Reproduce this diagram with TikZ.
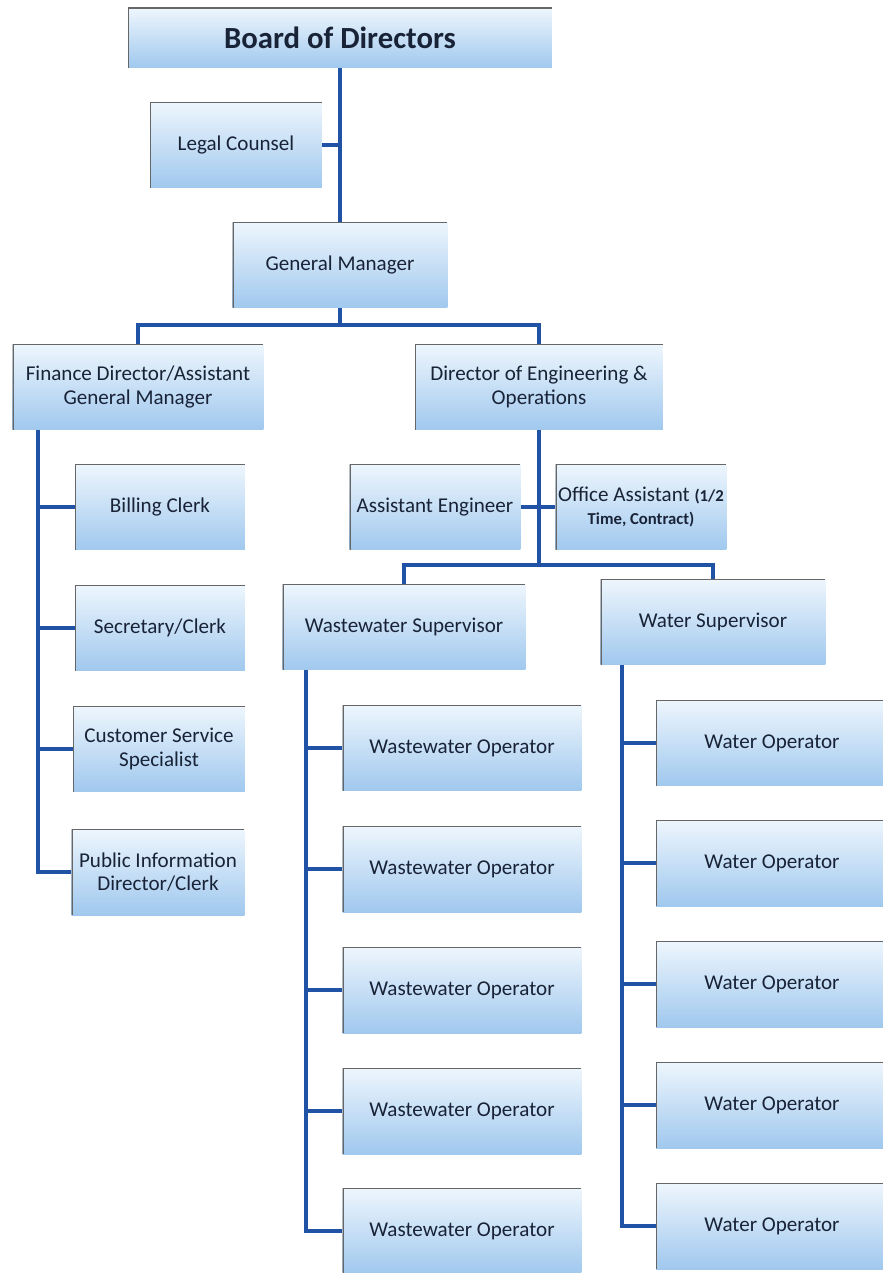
\documentclass[tikz,border=0pt]{standalone}
\usepackage{fontspec}
\setmainfont{Carlito}
\usepackage{xcolor}
\definecolor{linkblue}{RGB}{32,82,165}
\definecolor{boxtop}{RGB}{238,246,253}
\definecolor{boxbot}{RGB}{160,200,238}
\definecolor{boxtext}{RGB}{25,35,55}
\tikzset{
box/.style={top color=boxtop, bottom color=boxbot, inner sep=1pt, minimum height=1.72cm, align=center, text=boxtext, font=\fontsize{12}{13.5}\selectfont,
  path picture={\draw[black!60, line width=1.4pt] (path picture bounding box.south west) -- (path picture bounding box.north west) -- (path picture bounding box.north east);}},
link/.style={draw=linkblue, line width=2.2pt},
}
\newcommand{\smalltxt}{\bfseries\fontsize{9.5}{11}\selectfont}
\begin{document}
\begin{tikzpicture}[x=0.02cm,y=-0.02cm]
\useasboundingbox (0,0) rectangle (882,1273);
\fill[white] (0,0) rectangle (882,1273);
\node[box, minimum width=8.48cm, minimum height=1.2cm, font=\bfseries\fontsize{17.5}{20}\selectfont] (board) at (340,38) {Board of Directors};
\node[box, minimum width=3.44cm] (legal) at (236,145) {Legal Counsel};
\node[box, minimum width=4.3cm] (gm) at (340,265) {General Manager};
\node[box, minimum width=5.02cm] (fin) at (138,387) {Finance Director/Assistant\\General Manager};
\node[box, minimum width=4.96cm] (eng) at (539,387) {Director of Engineering \&\\Operations};
\node[box, minimum width=3.4cm] (bill) at (160,507) {Billing Clerk};
\node[box, minimum width=3.4cm] (sec) at (160,628) {Secretary/Clerk};
\node[box, minimum width=3.44cm] (cust) at (159,749) {Customer Service\\Specialist};
\node[box, minimum width=3.46cm] (pub) at (158,872) {Public Information\\Director/Clerk};
\node[box, minimum width=3.42cm] (aeng) at (435,507) {Assistant Engineer};
\node[box, minimum width=3.42cm, inner sep=0pt] (office) at (641,507) {Office Assistant {\smalltxt(1/2}\\{\smalltxt Time, Contract)}};
\node[box, minimum width=4.86cm] (wwsup) at (404,627) {Wastewater Supervisor};
\node[box, minimum width=4.5cm] (wsup) at (713,622) {Water Supervisor};
\foreach \y [count=\i] in {748,869,990,1111,1231}
  \node[box, minimum width=4.78cm] (wwop\i) at (462,\y) {Wastewater Operator};
\foreach \y [count=\i] in {743,863,984,1105,1226}
  \node[box, minimum width=4.64cm] (wop\i) at (772,\y) {Water Operator};
\coordinate (finspine) at (38,0);
\coordinate (wwspine) at (306,0);
\coordinate (wspine) at (622,0);
\draw[link] (board) -- (gm);
\draw[link] (legal) -- (legal -| board);
\draw[link] (gm.south) -- ++(0,17) coordinate (gmbus) -| (fin.north);
\draw[link] (gmbus) -| (eng.north);
\draw[link] (fin.south -| finspine) |- (pub.west);
\foreach \n in {bill,sec,cust}
  \draw[link] (\n.west) -- (\n.west -| finspine);
\draw[link] (eng.south) -- ++(0,135) coordinate (engbus) -| (wwsup.north);
\draw[link] (engbus) -| (wsup.north);
\draw[link] (aeng) -- (office);
\draw[link] (wwsup.south -| wwspine) |- (wwop5.west);
\foreach \i in {1,...,4}
  \draw[link] (wwop\i.west) -- (wwop\i.west -| wwspine);
\draw[link] (wsup.south -| wspine) |- (wop5.west);
\foreach \i in {1,...,4}
  \draw[link] (wop\i.west) -- (wop\i.west -| wspine);
\end{tikzpicture}
\end{document}
